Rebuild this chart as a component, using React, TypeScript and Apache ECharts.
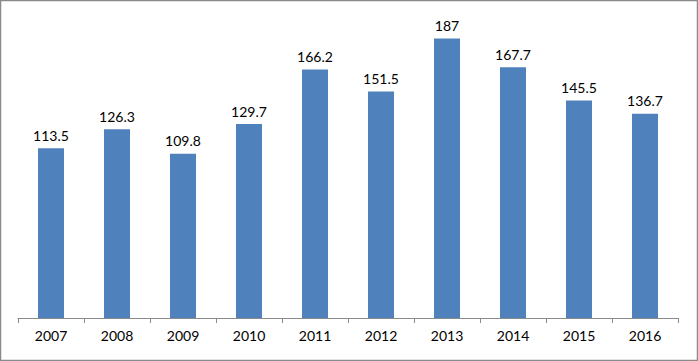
import React, { useEffect, useRef } from "react";
import * as echarts from "echarts";

const categories = ["2007", "2008", "2009", "2010", "2011", "2012", "2013", "2014", "2015", "2016"];
const values = [113.5, 126.3, 109.8, 129.7, 166.2, 151.5, 187, 167.7, 145.5, 136.7];

export default function App() {
  const ref = useRef<HTMLDivElement>(null);
  useEffect(() => {
    const chart = echarts.init(ref.current!, null, { renderer: "svg" });
    chart.setOption({
      animation: false,
      backgroundColor: "#ffffff",
      graphic: [
        {
          type: "rect",
          shape: { x: 0.5, y: 0.5, width: 697, height: 360 },
          style: { fill: "none", stroke: "#8a8a8a", lineWidth: 1.5 },
          z: 100,
        },
      ],
      grid: { left: 18, right: 20, top: 19, bottom: 43 },
      xAxis: {
        type: "category",
        data: categories,
        boundaryGap: true,
        axisLine: { lineStyle: { color: "#8a8a8a", width: 1 } },
        axisTick: { show: true, length: 5, lineStyle: { color: "#8a8a8a" } },
        axisLabel: { color: "#000000", fontSize: 14, fontFamily: "Lato", margin: 10 },
      },
      yAxis: {
        type: "value",
        min: 0,
        max: 200,
        show: false,
      },
      series: [
        {
          type: "bar",
          data: values,
          barWidth: 26,
          itemStyle: { color: "#4f81bd" },
          label: {
            show: true,
            position: "top",
            distance: 6,
            color: "#000000",
            fontSize: 14,
            fontFamily: "Lato",
          },
        },
      ],
    });
    return () => chart.dispose();
  }, []);
  return (
    <div
      ref={ref}
      style={{ position: "fixed", left: 0, top: 0, width: 698, height: 361 }}
    />
  );
}
